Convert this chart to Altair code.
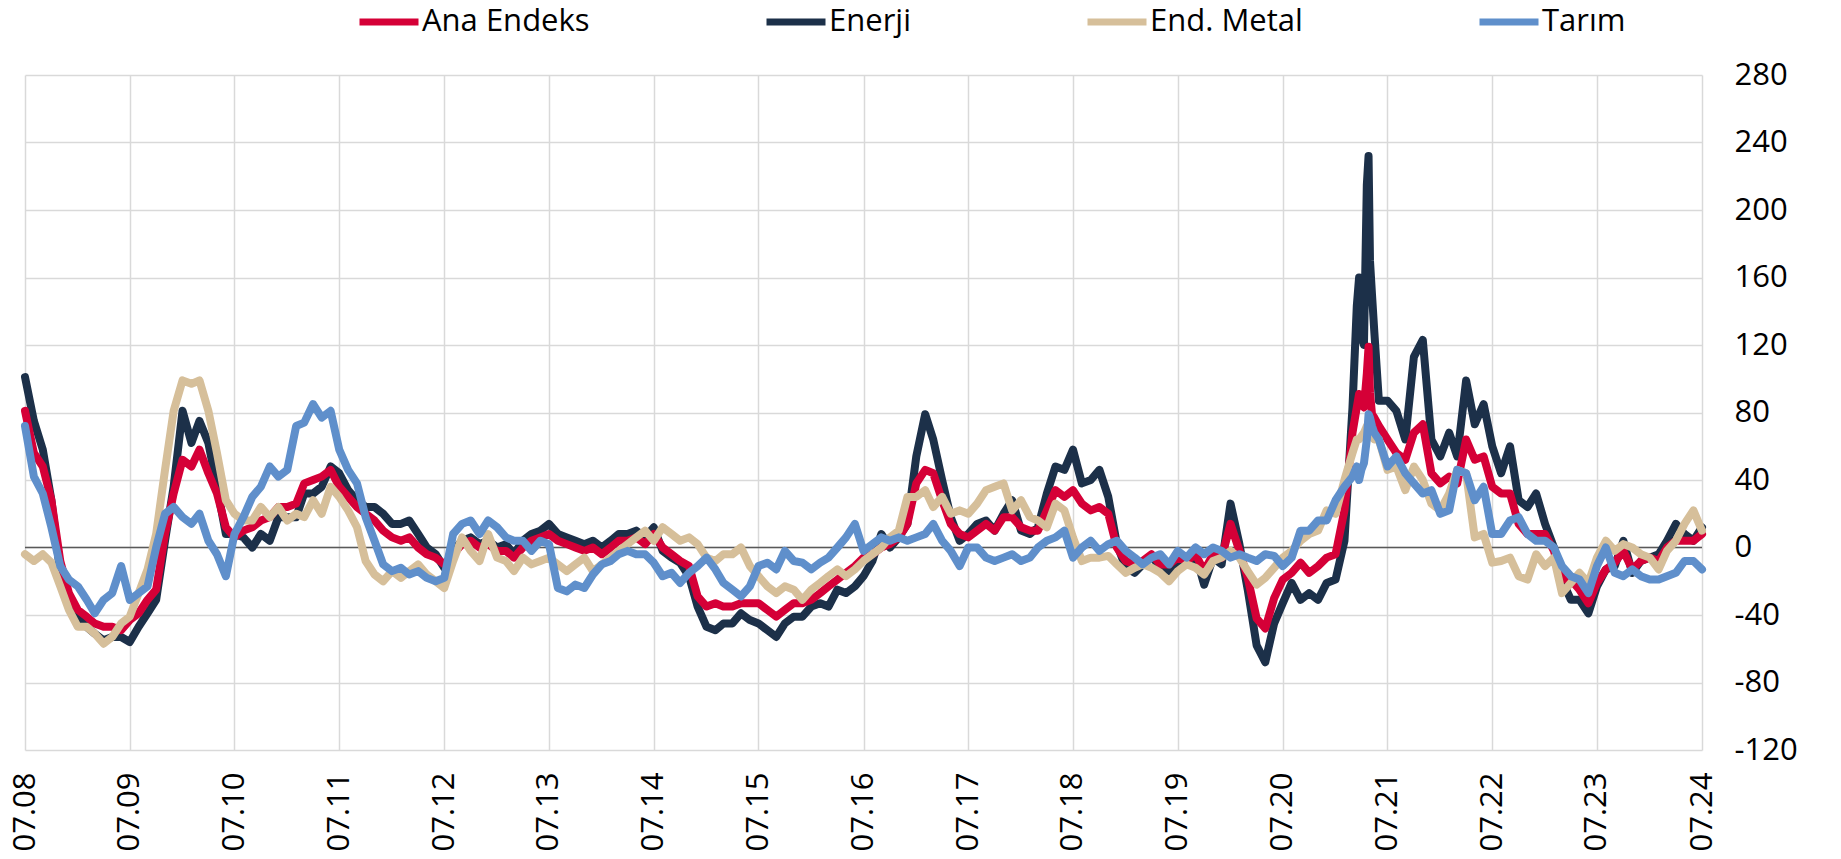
import altair as alt
import pandas as pd

# ---------------- data ----------------
SERIES = ["Ana Endeks", "Enerji", "End. Metal", "Tarım"]
COLORS = ["#D50037", "#1C3049", "#D6BF9A", "#5F8FCB"]
DRAW_ORDER = ["Enerji", "Ana Endeks", "End. Metal", "Tarım"]

Y_TICKS = [-120, -80, -40, 0, 40, 80, 120, 160, 200, 240, 280]
X_TICK_YEARS = [2008, 2009, 2010, 2011, 2012, 2013, 2014, 2015, 2016,
                2017, 2018, 2019, 2020, 2021, 2022, 2023, 2024]

FIRST_MONTH = "2008-07-01"   # monthly values, 07.2008 ... 07.2024

ana_endeks = [
    81, 56, 48, 28, -8, -27, -37, -41, -45, -47, -47, -49, -43, -39, -31, -25, 8, 32, 52, 48,
    58, 44, 32, 12, 6, 10, 12, 16, 18, 24, 24, 26, 38, 40, 42, 46, 36,
    30, 24, 20, 16, 10, 6, 4, 6, 0, -4, -6, -10, -4, 2, 4, 0, 2, -2, -2, -6,
    0, 4, 6, 8, 4, 2, 0, -2, 0, -4, 0, 4, 4, 6, 2,
    8, 0, -4, -8, -11, -29, -35, -33, -35, -35, -33, -33, -33, -37, -41, -37, -33, -33, -31, -27,
    -23, -19, -15, -11, -6, -4, 0, 2, 6, 14, 38, 46, 44, 28, 14, 8, 6, 10, 14, 10,
    18, 18, 12, 10, 10, 22, 34, 30, 34, 26, 22, 24,
    20, 0, -8, -10, -8, -4, -10, -10, -6, -8, -4, -14, -4, -6, 14, -2, -18, -42, -48, -30,
    -19, -15, -9, -15, -11, -6, -4, 22, 68, 85, 92, 72, 64, 56, 52, 68, 73, 44, 38, 42,
    38, 64, 52, 54, 36, 32, 32, 14, 8, 8, 8, -2, -19, -19, -25, -33, -21, -13, -9, -2,
    -13, -8, -6, -8, 0, 4, 4, 4, 8,
]

enerji = [
    101, 75, 58, 28, -15, -35, -41, -47, -51, -55, -53, -53, -56, -47, -39, -31, 4, 36, 81, 62,
    75, 62, 36, 8, 8, 6, 0, 8, 4, 18, 18, 18, 32, 32, 36, 48, 44,
    34, 28, 24, 24, 20, 14, 14, 16, 8, 0, -4, -12, -2, 4, 6, 2, 4, 0, 2, -4,
    4, 8, 10, 14, 8, 6, 4, 2, 4, 0, 4, 8, 8, 10, 6,
    12, -2, -6, -9, -17, -35, -47, -49, -45, -45, -39, -43, -45, -49, -53, -45, -41, -41, -35, -33,
    -35, -25, -27, -23, -17, -8, 8, 0, 6, 14, 54, 79, 64, 40, 18, 4, 8, 14, 16, 10,
    20, 28, 10, 8, 12, 32, 48, 46, 58, 38, 40, 46,
    30, 2, -12, -15, -10, -5, -12, -14, -8, -10, -4, -22, -6, -10, 26, 2, -25, -58, -68, -45,
    -33, -21, -31, -27, -31, -21, -19, 4, 83, 125, 170, 87, 87, 81, 64, 113, 123, 64, 54, 68,
    54, 99, 73, 85, 60, 44, 60, 28, 24, 32, 14, 0, -19, -31, -31, -39, -23, -13, -11, 4,
    -15, -8, -6, -4, 4, 14, 8, 4, 12,
]

end_metal = [
    -4, -8, -4, -9, -23, -37, -47, -47, -51, -57, -53, -45, -41, -27, -13, 8, 46, 81, 99, 97,
    99, 81, 56, 28, 20, 16, 16, 24, 18, 24, 16, 20, 18, 28, 20, 36, 30,
    22, 12, -8, -16, -20, -14, -18, -14, -10, -16, -20, -24, -8, 6, -2, -8, 8, -6, -8, -14,
    -6, -10, -8, -6, -10, -14, -10, -6, -14, -10, -6, -2, 2, 6, 10,
    4, 12, 8, 4, 6, 2, -6, -8, -4, -4, 0, -11, -17, -23, -27, -23, -25, -31, -25, -21,
    -17, -13, -17, -13, -8, -4, 0, 6, 10, 30, 30, 34, 24, 30, 20, 22, 20, 26, 34, 36,
    38, 22, 28, 18, 16, 12, 26, 22, 6, -8, -6, -6,
    -5, -10, -15, -12, -10, -12, -15, -20, -14, -10, -12, -16, -8, -6, -2, -6, -14, -22, -18, -12,
    -6, -2, 4, 8, 10, 22, 20, 40, 56, 66, 68, 64, 46, 48, 34, 48, 40, 26, 22, 32,
    46, 44, 6, 8, -9, -8, -6, -17, -19, -4, -11, -6, -27, -21, -15, -21, -6, 4, -2, 2,
    0, -4, -6, -13, -2, 4, 14, 22, 10,
]

tarim = [
    72, 42, 32, 12, -11, -19, -23, -31, -39, -31, -27, -11, -31, -27, -23, 0, 20, 24, 18, 14,
    20, 4, -4, -17, 8, 18, 30, 36, 48, 42, 46, 72, 74, 85, 77, 81, 58,
    46, 38, 18, 4, -10, -14, -12, -16, -14, -18, -20, -18, 8, 14, 16, 8, 16, 12, 6, 4,
    4, -2, 4, 2, -24, -26, -22, -24, -16, -10, -8, -4, -2, -4, -4,
    -9, -17, -15, -21, -15, -11, -6, -13, -21, -25, -29, -23, -11, -9, -13, -2, -8, -9, -13, -9,
    -6, 0, 6, 14, -2, 2, 6, 4, 6, 4, 6, 8, 14, 4, -2, -11, 0, 0, -6, -8,
    -6, -4, -8, -6, 0, 4, 6, 10, -6, 0, 4, -2,
    2, 4, -2, -6, -10, -6, -4, -10, -2, -6, 0, -4, 0, -2, -6, -4, -6, -8, -4, -5,
    -11, -6, 10, 10, 16, 16, 28, 36, 42, 46, 77, 64, 48, 54, 44, 38, 32, 34, 20, 22,
    46, 44, 28, 36, 8, 8, 16, 18, 8, 4, 4, 0, -11, -17, -19, -27, -11, 0, -15, -17,
    -13, -17, -19, -19, -17, -15, -8, -8, -13,
]

# extra readings inside the spring-2021 spike
spike_dates = ["2021-03-16", "2021-03-24", "2021-04-10", "2021-04-20",
               "2021-04-26", "2021-05-08", "2021-05-16"]
spike_ana_endeks = [83, 91, 83, 103, 119, 79, 77]
spike_enerji = [143, 160, 120, 215, 232, 150, 128]
spike_end_metal = [64, 64, 68, 72, 73, 66, 64]
spike_tarim = [48, 40, 50, 64, 79, 72, 68]

# ---------------- table ----------------
assert len(ana_endeks) == len(enerji) == len(end_metal) == len(tarim) == 193
months = pd.date_range(FIRST_MONTH, periods=len(ana_endeks), freq="MS")
monthly = {"Ana Endeks": ana_endeks, "Enerji": enerji,
           "End. Metal": end_metal, "Tarım": tarim}
spikes = {"Ana Endeks": spike_ana_endeks, "Enerji": spike_enerji,
          "End. Metal": spike_end_metal, "Tarım": spike_tarim}

frames = []
for name in SERIES:
    d = pd.DataFrame({
        "date": list(months) + list(pd.to_datetime(spike_dates)),
        "value": monthly[name] + spikes[name],
    })
    d["series"] = name
    frames.append(d.sort_values("date"))
df = pd.concat(frames, ignore_index=True)

zero_df = pd.DataFrame({"value": [0]})

# ---------------- chart ----------------
x_enc = alt.X(
    "date:T", title=None,
    scale=alt.Scale(domain=[alt.DateTime(year=2008, month=7, date=1),
                            alt.DateTime(year=2024, month=7, date=1)], nice=False),
    axis=alt.Axis(values=[alt.DateTime(year=y, month=7, date=1) for y in X_TICK_YEARS],
                  format="%m.%y", labelAngle=270, labelAlign="right",
                  labelBaseline="middle", labelPadding=22, tickSize=0,
                  domain=False, grid=True, labelFlush=False, labelOverlap=False),
)
y_enc = alt.Y(
    "value:Q", title=None,
    scale=alt.Scale(domain=[-120, 280], nice=False, zero=False),
    axis=alt.Axis(orient="right", values=Y_TICKS, labelPadding=32, tickSize=0,
                  labelExpr="toString(datum.value)",
                  domain=False, grid=True, labelFlush=False, labelOverlap=False),
)
color_enc = alt.Color(
    "series:N",
    scale=alt.Scale(domain=SERIES, range=COLORS),
    legend=alt.Legend(title=None, orient="none", legendX=331, legendY=-86,
                      direction="horizontal", symbolType="stroke",
                      symbolSize=3481, symbolStrokeWidth=7,
                      labelFont="Open Sans", labelFontSize=31, labelColor="#000000",
                      labelLimit=0, labelOffset=0, columnPadding=162, padding=0),
)

zero_rule = alt.Chart(zero_df).mark_rule(color="#595959", strokeWidth=1.3).encode(y=y_enc)

base = alt.Chart(df).mark_line(strokeWidth=8, strokeJoin="round", strokeCap="round").encode(
    x=x_enc, y=y_enc, color=color_enc, order="date:T"
)
lines = [base.transform_filter(alt.datum.series == s) for s in DRAW_ORDER]

chart = alt.layer(zero_rule, *lines).properties(
    width=1677, height=675,
    autosize=alt.AutoSizeParams(type="none"),
    padding={"left": 17, "top": 67, "right": 120, "bottom": 112},
).configure_view(stroke=None).configure_axis(
    labelFont="Open Sans", labelFontSize=31, labelColor="#000000",
    gridColor="#D9D9D9", gridWidth=1.5,
)

chart.save("out.html", embed_options={"renderer": "svg", "actions": False})
